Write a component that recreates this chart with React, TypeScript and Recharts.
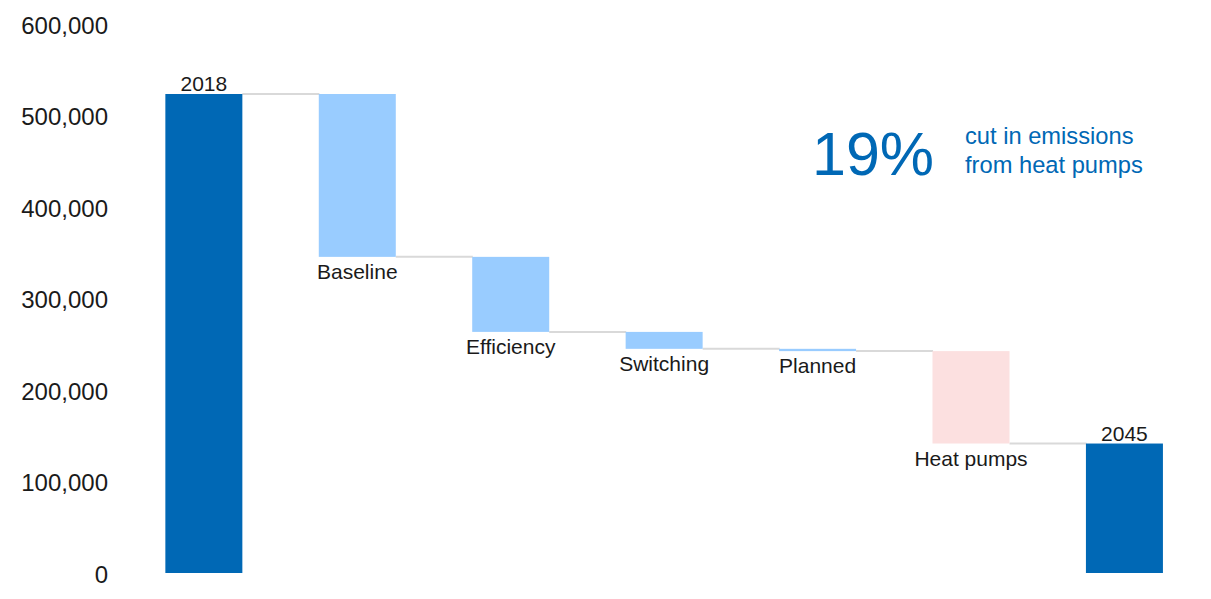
import React from 'react';
import { ComposedChart, Bar, XAxis, YAxis, LabelList } from 'recharts';

const categories = ['2018', 'Baseline', 'Efficiency', 'Switching', 'Planned', 'Heat pumps', '2045'];
const kinds = ['total', 'decrease', 'decrease', 'decrease', 'decrease', 'decrease', 'total'];
const values = [523500, 178000, 82000, 18500, 2500, 101000, 141500];
const yTicks = [0, 100000, 200000, 300000, 400000, 500000, 600000];
const barColors = ['#0068B5', '#99CCFF', '#99CCFF', '#99CCFF', '#99CCFF', '#FCE0E0', '#0068B5'];

const headline = '19%';
const noteLines = ['cut in emissions', 'from heat pumps'];

let running = 0;
const data = categories.map((name, i) => {
  let base = 0;
  const amount = values[i];
  if (kinds[i] === 'total') {
    base = 0;
    running = values[i];
  } else {
    running = running - values[i];
    base = running;
  }
  return { name, base, amount };
});

const FONT = '"Liberation Sans", Arial, Helvetica, sans-serif';
const TEXT = '#1a1a1a';
const CONNECTOR = '#D9D9D9';
const BLUE = '#0068B5';

const StepBar = (props: any) => {
  const { x, y, width, height, index } = props;
  const isTotal = kinds[index] === 'total';
  const endY = isTotal ? y : y + height;
  return (
    <g>
      {index < categories.length - 1 && (
        <line x1={x + width} x2={x + 2 * width} y1={endY} y2={endY} stroke={CONNECTOR} strokeWidth={2} />
      )}
      <rect x={x} y={y} width={width} height={height} fill={barColors[index]} />
    </g>
  );
};

const renderLabel = (props: any) => {
  const { x, y, width, height, index } = props;
  const isTotal = kinds[index] === 'total';
  const cx = x + width / 2;
  const ty = isTotal ? y - 3 : y + height + 22;
  return (
    <text x={cx} y={ty} textAnchor="middle" fontSize={21} fontFamily={FONT} fill={TEXT}>
      {categories[index]}
    </text>
  );
};

export default function App() {
  return (
    <div style={{ position: 'absolute', left: 0, top: 0, width: 1211, height: 599, background: '#fff' }}>
      <ComposedChart
        width={1211}
        height={599}
        data={data}
        margin={{ top: 24, right: 10, bottom: 26, left: 0 }}
        barCategoryGap="25%"
      >
        <XAxis dataKey="name" hide />
        <YAxis
          domain={[0, 600000]}
          ticks={yTicks}
          interval={0}
          axisLine={false}
          tickLine={false}
          width={127}
          tickMargin={13}
          tick={{ fontSize: 24, fontFamily: FONT, fill: TEXT, dy: 1 }}
          tickFormatter={(v: number) => v.toLocaleString('en-US')}
        />
        <Bar dataKey="base" stackId="w" fill="transparent" isAnimationActive={false} />
        <Bar dataKey="amount" stackId="w" isAnimationActive={false} shape={StepBar}>
          <LabelList dataKey="name" content={renderLabel} />
        </Bar>
      </ComposedChart>
      <svg width={1211} height={599} style={{ position: 'absolute', left: 0, top: 0, pointerEvents: 'none' }}>
        <text x={812} y={175} fontSize={61} fontFamily={FONT} fill={BLUE}>
          {headline}
        </text>
        <text x={965} y={144} fontSize={23.7} fontFamily={FONT} fill={BLUE}>
          {noteLines[0]}
        </text>
        <text x={965} y={173} fontSize={23.7} fontFamily={FONT} fill={BLUE}>
          {noteLines[1]}
        </text>
      </svg>
    </div>
  );
}
